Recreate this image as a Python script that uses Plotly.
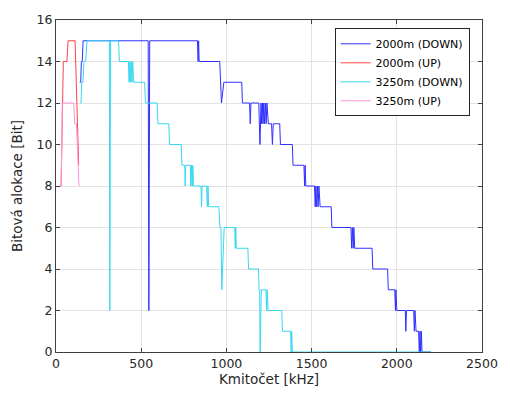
import plotly.graph_objects as go

# 2000m (DOWN)
down2000_x = [139, 145, 149, 154, 159, 541, 545, 550, 830, 834, 837, 840, 845, 961, 971, 985,
              1090, 1094, 1136, 1140, 1144, 1190, 1197, 1203, 1207, 1211, 1215, 1219, 1223, 1228,
              1233, 1238, 1246, 1265, 1270, 1275, 1313, 1317, 1387, 1391, 1455, 1459, 1462, 1466,
              1517, 1521, 1525, 1529, 1534, 1538, 1543, 1550, 1615, 1619, 1731, 1735, 1739, 1744,
              1748, 1753, 1760, 1855, 1859, 1946, 1950, 1988, 1992, 1995, 2000, 2050, 2053, 2057,
              2099, 2103, 2107, 2113, 2128, 2132, 2136, 2140, 2144, 2148, 2200]
down2000_y = [13, 13, 14, 14, 15, 15, 2, 15, 15, 14, 15, 14, 14, 14, 12, 13,
              13, 12, 12, 11, 12, 12, 10, 12, 11, 12, 11, 12, 11, 12,
              11, 12, 11, 11, 10, 11, 11, 10, 10, 9, 9, 8, 9, 8,
              8, 7, 8, 7, 8, 7, 8, 7, 7, 6, 6, 5, 6, 5,
              6, 5, 5, 5, 4, 4, 3, 3, 2, 3, 2, 2, 1, 2,
              2, 1, 2, 1, 1, 0, 1, 0, 1, 0, 0]

# 2000m (UP)
up2000_x = [22, 30, 43, 64, 71, 112, 133]
up2000_y = [8, 8, 14, 14, 15, 15, 9]

# 3250m (DOWN)
down3250_x = [143, 147, 151, 158, 164, 174, 182, 313, 316, 320, 367, 372, 425, 429, 433, 437, 441,
              446, 450, 455, 520, 525, 594, 598, 662, 666, 735, 739, 756, 758, 761, 788, 791, 795,
              799, 803, 807, 811, 851, 854, 858, 884, 888, 892, 896, 956, 962, 968, 973, 987, 1049,
              1052, 1055, 1058, 1126, 1130, 1188, 1192, 1195, 1198, 1205, 1232, 1236, 1240, 1244,
              1250, 1325, 1329, 1377, 1380, 1383, 1387, 2200]
down3250_y = [12, 12, 13, 13, 14, 14, 15, 15, 2, 15, 15, 14, 14, 13, 14, 13, 14,
              13, 14, 13, 13, 12, 12, 11, 11, 10, 10, 9, 9, 8, 9, 9, 8, 9,
              8, 9, 8, 8, 8, 7, 8, 8, 7, 8, 7, 7, 6, 6, 3, 6, 6,
              5, 6, 5, 5, 4, 4, 3, 3, 0, 3, 3, 2, 3, 2,
              2, 2, 1, 1, 0, 1, 0, 0]

# 3250m (UP)
up3250_x = [22, 30, 37, 104, 110, 120, 135]
up3250_y = [8, 8, 12, 12, 11, 11, 8]

x_ticks = [0, 500, 1000, 1500, 2000, 2500]
y_ticks = [0, 2, 4, 6, 8, 10, 12, 14, 16]

series = [
    ("2000m (DOWN)", down2000_x, down2000_y, "#3030ff"),
    ("2000m (UP)", up2000_x, up2000_y, "#ff4545"),
    ("3250m (DOWN)", down3250_x, down3250_y, "#38d8f2"),
    ("3250m (UP)", up3250_x, up3250_y, "#ff94d8"),
]

fig = go.Figure()
for name, xs, ys, col in series:
    fig.add_trace(go.Scatter(x=xs, y=ys, mode="lines", name=name,
                             line=dict(color=col, width=1)))

axis_common = dict(showline=True, linecolor="#404040", linewidth=1, mirror="ticks",
                   ticks="inside", ticklen=4, tickcolor="#404040",
                   showgrid=True, gridcolor="#e3e3e3", gridwidth=1, zeroline=False,
                   tickfont=dict(family="DejaVu Sans", size=12.5, color="#262626"))

fig.update_layout(
    width=510, height=396,
    margin=dict(l=56, r=23, t=12, b=44),
    plot_bgcolor="white", paper_bgcolor="white",
    font=dict(family="DejaVu Sans", size=12, color="#262626"),
    xaxis=dict(range=[0, 2500], tickvals=x_ticks,
               title=dict(text="Kmitočet [kHz]", font=dict(size=13.5), standoff=4),
               **axis_common),
    yaxis=dict(range=[0, 16], tickvals=y_ticks,
               title=dict(text="Bitová alokace [Bit]", font=dict(size=13.5), standoff=10),
               **axis_common),
    legend=dict(x=0.654, y=0.975, xanchor="left", yanchor="top",
                bgcolor="white", bordercolor="#262626", borderwidth=1,
                font=dict(family="DejaVu Sans", size=11, color="#000000"),
                tracegroupgap=0),
    showlegend=True,
)

fig.write_html("out.html", config={"displayModeBar": False},
               post_script="document.body.style.margin='0';")
